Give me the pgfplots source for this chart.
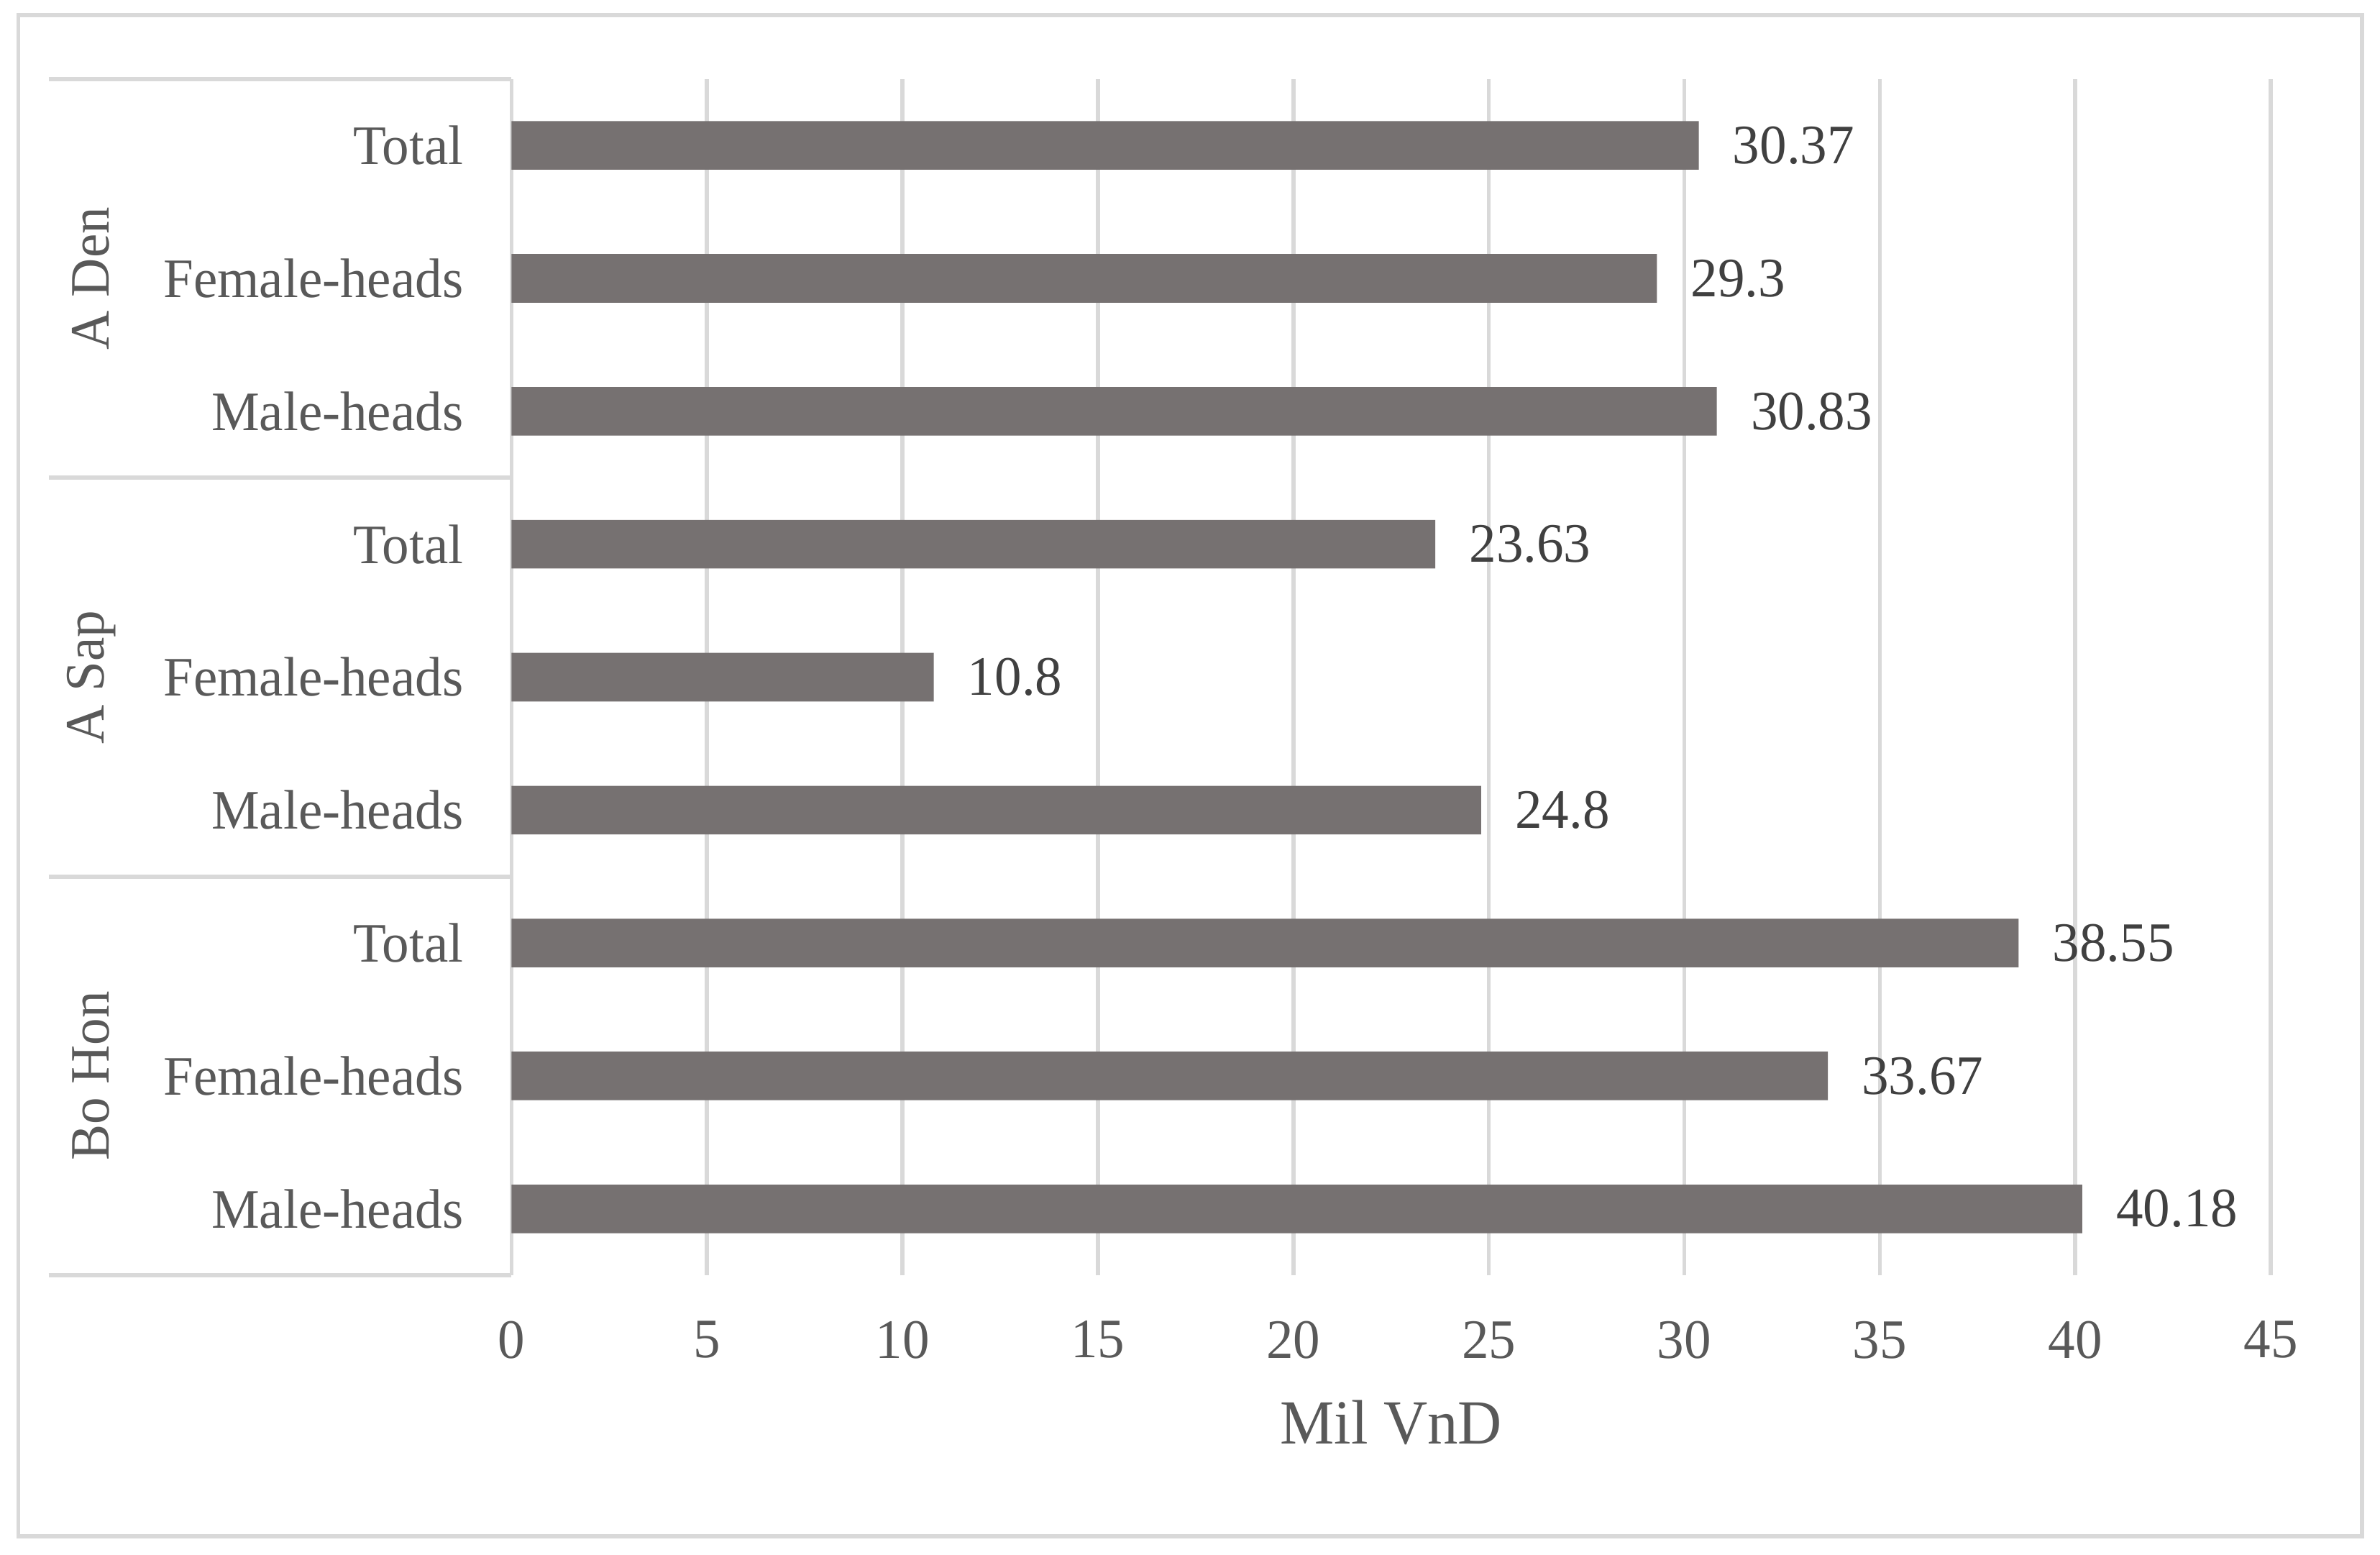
\documentclass[border=0pt]{standalone}
\usepackage{pgfplots}
\pgfplotsset{compat=1.18}
\usepackage{fontspec}
\setmainfont[FakeStretch=0.97]{Liberation Serif}
\definecolor{barc}{HTML}{767171}
\definecolor{txt}{HTML}{595959}
\definecolor{grd}{HTML}{D9D9D9}
\definecolor{val}{HTML}{404040}

\begin{document}
\begin{tikzpicture}
\path[use as bounding box] (0,0) rectangle (470.4pt,307.2pt);
\draw[grd, line width=0.8pt] (3.6pt,3.6pt) rectangle (466.8pt,304.2pt);
\begin{axis}[
  at={(101.1pt,55.2pt)}, anchor=south west,
  scale only axis, width=347.7pt, height=236.4pt,
  xbar, bar width=9.6pt,
  xmin=0, xmax=45, ymin=-0.5, ymax=8.5,
  xtick={0,5,...,45}, ytick={0,...,8},
  yticklabels={Male-heads,Female-heads,Total,Male-heads,Female-heads,Total,Male-heads,Female-heads,Total},
  axis line style={draw=none},
  major tick length=0pt,
  xmajorgrids, grid style={grd, line width=0.8pt},
  tick label style={font=\fontsize{11}{13}\selectfont, text=txt},
  /pgf/number format/assume math mode=true,
  xticklabel style={yshift=-5.5pt},
  yticklabel style={xshift=-6pt},
  xlabel={Mil VnD},
  xlabel style={font=\fontsize{12.4}{15}\selectfont, text=txt, at={(axis description cs:0.5,0)}, anchor=center, yshift=-29.1pt},
  nodes near coords, point meta=explicit symbolic,
  nodes near coords style={anchor=west, font=\fontsize{11}{13}\selectfont, text=val, xshift=3.2pt},
  clip=false,
]
\addplot[fill=barc, draw=none] coordinates {
  (40.18,0) [40.18]
  (33.67,1) [33.67]
  (38.55,2) [38.55]
  (24.8,3) [24.8]
  (10.8,4) [10.8]
  (23.63,5) [23.63]
  (30.83,6) [30.83]
  (29.3,7) [29.3]
  (30.37,8) [30.37]
};
\draw[grd, line width=0.8pt] ([xshift=-91.5pt]axis cs:0,8.5) -- (axis cs:0,8.5);
\draw[grd, line width=0.8pt] ([xshift=-91.5pt]axis cs:0,5.5) -- (axis cs:0,5.5);
\draw[grd, line width=0.8pt] ([xshift=-91.5pt]axis cs:0,2.5) -- (axis cs:0,2.5);
\draw[grd, line width=0.8pt] ([xshift=-91.5pt]axis cs:0,-0.5) -- (axis cs:0,-0.5);
\node[rotate=90, font=\fontsize{11}{13}\selectfont, text=txt] at ([xshift=-83.1pt]axis cs:0,7) {A Den};
\node[rotate=90, font=\fontsize{11}{13}\selectfont, text=txt] at ([xshift=-83.1pt]axis cs:0,4) {A Sap};
\node[rotate=90, font=\fontsize{11}{13}\selectfont, text=txt] at ([xshift=-83.1pt]axis cs:0,1) {Bo Hon};
\end{axis}
\end{tikzpicture}
\end{document}
